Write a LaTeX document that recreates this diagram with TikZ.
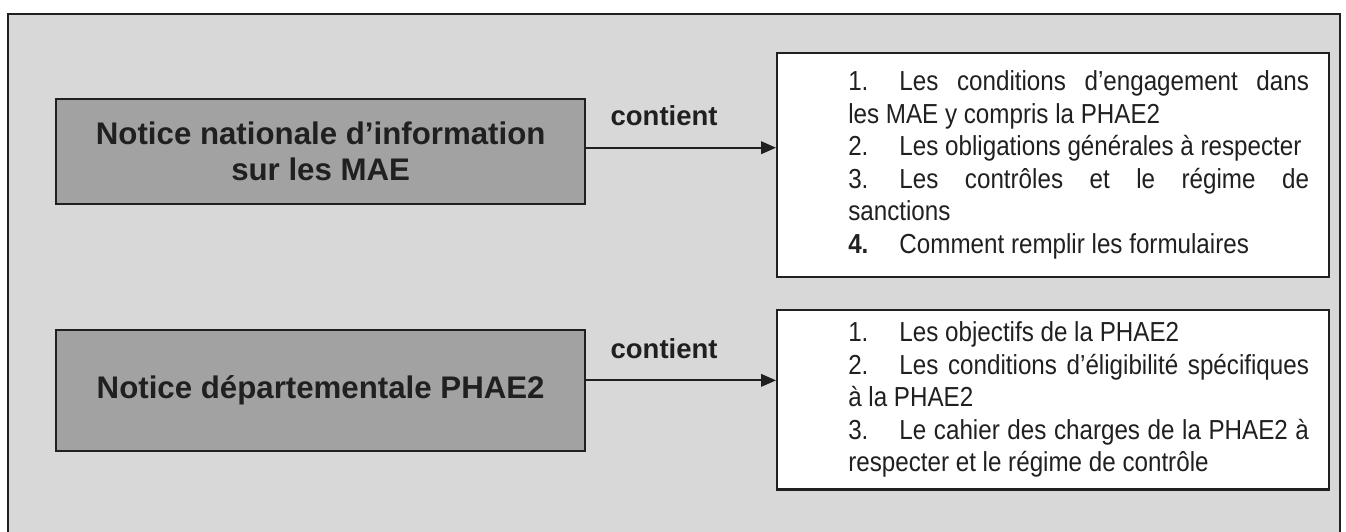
\documentclass[tikz,border=0pt]{standalone}
\usepackage{fontspec}
\setmainfont{Liberation Sans}
\newfontfamily\listfont[FakeStretch=0.88]{Liberation Sans}
\usetikzlibrary{arrows.meta}

\definecolor{pagegrey}{RGB}{216,216,216}
\definecolor{boxgrey}{RGB}{162,162,162}
\definecolor{ink}{RGB}{32,32,32}

% number of a list entry, then a tab
\newcommand{\itemno}[1]{\makebox[0.72cm][l]{#1}}

\begin{document}
\begin{tikzpicture}[-{Triangle[length=6pt,width=5pt]}, line width=0.9pt, color=ink,
    notice/.style={rectangle, draw, fill=boxgrey, minimum width=7.44cm, align=center, font=\fontsize{12.5}{14.4}\selectfont\bfseries},
    list/.style={rectangle, draw, fill=white, minimum width=7.76cm, inner xsep=0.28cm, inner ysep=0pt, font=\listfont\fontsize{11}{13}\selectfont}]
        \tikzstyle{every node}=[font=\fontsize{11}{13}\selectfont\bfseries]

          \useasboundingbox (0,0) rectangle (18.93,7.47);
          \draw[-, fill=pagegrey, line width=0.8pt] (0.11,-0.5) rectangle (18.84,7.27);

          \node[notice, minimum height=1.48cm] (1) at (4.51,5.34) {Notice nationale d’information\\sur les MAE};
          \node[list, minimum height=3.15cm] (2) [right of=1, node distance=10.3cm, yshift=-0.19cm] {\hspace{0.72cm}\begin{minipage}{6.48cm}\parindent=0pt
            \itemno{1.}Les conditions d’engagement dans\linebreak les MAE y compris la PHAE2\par
            \itemno{2.}Les obligations générales à respecter\par
            \itemno{3.}Les contrôles et le régime de\linebreak sanctions\par
            \itemno{\textbf{4.}}Comment remplir les formulaires
          \end{minipage}};

          \node[notice, minimum height=1.7cm] (3) [below of=1, node distance=3.36cm] {Notice départementale PHAE2};
          \node[list, minimum height=2.53cm] (4) [right of=3, node distance=10.3cm, yshift=-0.13cm] {\hspace{0.72cm}\begin{minipage}{6.48cm}\parindent=0pt
            \itemno{1.}Les objectifs de la PHAE2\par
            \itemno{2.}Les conditions d’éligibilité spécifiques\linebreak à la PHAE2\par
            \itemno{3.}Le cahier des charges de la PHAE2 à\linebreak respecter et le régime de contrôle
          \end{minipage}};

          \path
            ([yshift=1.5pt]1.east) edge node [above=5pt, pos=0.41] {contient} ([yshift=1.5pt]1.east -| 2.west)
            ([yshift=4pt]3.east) edge node [above=5pt, pos=0.41] {contient} ([yshift=4pt]3.east -| 4.west);

        \end{tikzpicture}
\end{document}
